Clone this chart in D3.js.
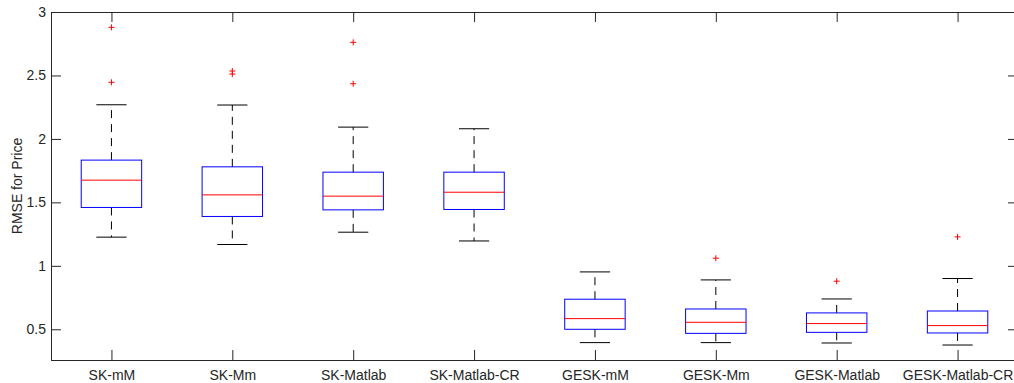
<!DOCTYPE html>
<html>
<head>
<meta charset="utf-8">
<script src="https://cdn.jsdelivr.net/npm/d3@7"></script>
<style>
  body { margin: 0; background: #fff; }
  svg { display: block; }
</style>
</head>
<body>
<div id="wrapper"></div>
<script>
// box statistics
const categories = ["SK-mM", "SK-Mm", "SK-Matlab", "SK-Matlab-CR", "GESK-mM", "GESK-Mm", "GESK-Matlab", "GESK-Matlab-CR"]
const whiskerLow  = [1.226, 1.168, 1.265, 1.196, 0.395, 0.395, 0.392, 0.376]
const q1          = [1.460, 1.389, 1.441, 1.444, 0.500, 0.468, 0.476, 0.471]
const median      = [1.675, 1.559, 1.549, 1.580, 0.584, 0.555, 0.545, 0.529]
const q3          = [1.833, 1.780, 1.738, 1.738, 0.737, 0.660, 0.629, 0.644]
const whiskerHigh = [2.269, 2.267, 2.093, 2.080, 0.952, 0.889, 0.739, 0.900]
const outliers    = [[2.879, 2.446], [2.535, 2.511], [2.761, 2.435], [], [], [1.060], [0.879], [1.228]]
const yTicks = [0.5, 1, 1.5, 2, 2.5, 3]

function drawBoxes() {
  const dimensions = {
    width: 1014,
    height: 383,
    margin: { top: 12, right: -4, bottom: 23, left: 51 },
  }
  dimensions.boundedWidth = dimensions.width - dimensions.margin.left - dimensions.margin.right
  dimensions.boundedHeight = dimensions.height - dimensions.margin.top - dimensions.margin.bottom

  const axisColor = "#262626"
  const font = "'Liberation Sans', Arial, Helvetica, sans-serif"

  const svg = d3.select("#wrapper")
    .append("svg")
      .attr("width", dimensions.width)
      .attr("height", dimensions.height)

  const bounds = svg.append("g")
      .attr("transform", `translate(${dimensions.margin.left}, ${dimensions.margin.top})`)

  // scales
  const xScale = d3.scaleLinear()
    .domain([0.5, categories.length + 0.5])
    .range([0, dimensions.boundedWidth])

  const yScale = d3.scaleLinear()
    .domain([0.258, 3])
    .range([dimensions.boundedHeight, 0])

  const boxHalf = (xScale(1.25) - xScale(1))
  const capHalf = boxHalf / 2

  const rows = categories.map((c, i) => ({
    i: i + 1, c,
    lo: whiskerLow[i], q1: q1[i], med: median[i], q3: q3[i], hi: whiskerHigh[i],
    out: outliers[i],
  }))

  const groups = bounds.selectAll("g.box")
    .data(rows)
    .enter().append("g")
      .attr("class", "box")

  // whiskers (dashed)
  groups.append("line")
      .attr("x1", d => xScale(d.i)).attr("x2", d => xScale(d.i))
      .attr("y1", d => yScale(d.q3)).attr("y2", d => yScale(d.hi))
      .attr("stroke", "#000").attr("stroke-dasharray", "8,6")
  groups.append("line")
      .attr("x1", d => xScale(d.i)).attr("x2", d => xScale(d.i))
      .attr("y1", d => yScale(d.q1)).attr("y2", d => yScale(d.lo))
      .attr("stroke", "#000").attr("stroke-dasharray", "8,6")

  // caps
  groups.append("line")
      .attr("x1", d => xScale(d.i) - capHalf).attr("x2", d => xScale(d.i) + capHalf)
      .attr("y1", d => yScale(d.hi)).attr("y2", d => yScale(d.hi))
      .attr("stroke", "#000")
  groups.append("line")
      .attr("x1", d => xScale(d.i) - capHalf).attr("x2", d => xScale(d.i) + capHalf)
      .attr("y1", d => yScale(d.lo)).attr("y2", d => yScale(d.lo))
      .attr("stroke", "#000")

  // box
  groups.append("rect")
      .attr("x", d => xScale(d.i) - boxHalf)
      .attr("width", boxHalf * 2)
      .attr("y", d => yScale(d.q3))
      .attr("height", d => yScale(d.q1) - yScale(d.q3))
      .attr("fill", "none")
      .attr("stroke", "#0000ff")

  // median
  groups.append("line")
      .attr("x1", d => xScale(d.i) - boxHalf).attr("x2", d => xScale(d.i) + boxHalf)
      .attr("y1", d => yScale(d.med)).attr("y2", d => yScale(d.med))
      .attr("stroke", "#ff0000")

  // outliers as '+'
  groups.selectAll("path.out")
    .data(d => d.out.map(v => ({ i: d.i, v })))
    .enter().append("path")
      .attr("class", "out")
      .attr("d", d => {
        const cx = xScale(d.i), cy = yScale(d.v), s = 3
        return `M${cx - s},${cy}H${cx + s}M${cx},${cy - s}V${cy + s}`
      })
      .attr("stroke", "#ff0000")
      .attr("fill", "none")

  // axes
  const yAxis = bounds.append("g")
    .call(d3.axisLeft(yScale).tickValues(yTicks).tickFormat(d3.format("")).tickSize(-10).tickPadding(5))
  const yAxisRight = bounds.append("g")
      .attr("transform", `translate(${dimensions.boundedWidth}, 0)`)
    .call(d3.axisRight(yScale).tickValues(yTicks).tickSize(-10).tickFormat(""))

  const xAxis = bounds.append("g")
      .attr("transform", `translate(0, ${dimensions.boundedHeight})`)
    .call(d3.axisBottom(xScale).tickValues(d3.range(1, categories.length + 1))
      .tickFormat(i => categories[i - 1]).tickSize(-10).tickPadding(10))
  const xAxisTop = bounds.append("g")
    .call(d3.axisTop(xScale).tickValues(d3.range(1, categories.length + 1))
      .tickFormat("").tickSize(-10))

  ;[yAxis, yAxisRight, xAxis, xAxisTop].forEach(a => {
    a.select(".domain").attr("stroke", axisColor)
    a.selectAll(".tick line").attr("stroke", axisColor)
    a.selectAll(".tick text")
      .attr("fill", axisColor)
      .style("font-family", font)
      .style("font-size", "14px")
  })

  bounds.append("text")
      .attr("transform", `translate(${22 - dimensions.margin.left}, ${dimensions.boundedHeight / 2}) rotate(-90)`)
      .attr("text-anchor", "middle")
      .attr("fill", axisColor)
      .style("font-family", font)
      .style("font-size", "14px")
      .text("RMSE for Price")
}
drawBoxes()
</script>
</body>
</html>
